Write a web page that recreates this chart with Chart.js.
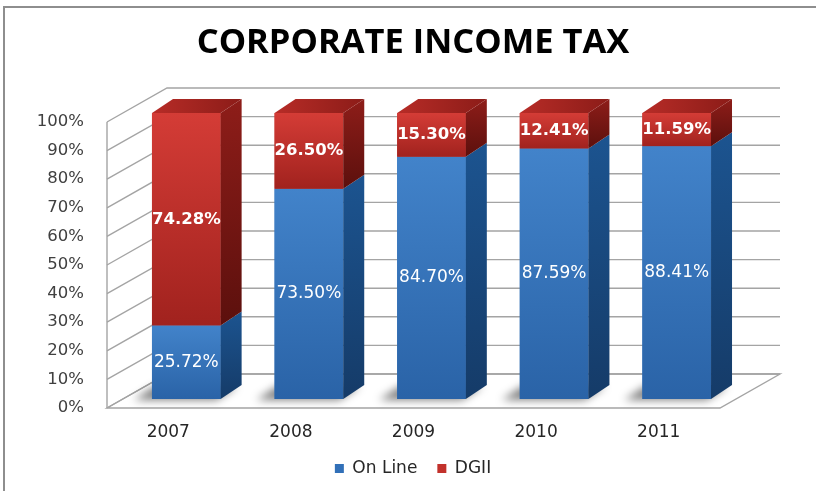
<!DOCTYPE html>
<html>
<head>
<meta charset="utf-8">
<title>Corporate Income Tax</title>
<script src="https://cdn.jsdelivr.net/npm/chart.js@4.4.1/dist/chart.umd.min.js"></script>
<style>
  html, body { margin: 0; padding: 0; background: #fff; }
</style>
</head>
<body>
<canvas id="taxChart" width="816" height="491"></canvas>
<script>
const years = ['2007', '2008', '2009', '2010', '2011']
const onLine = [25.72, 73.5, 84.7, 87.59, 88.41]
const dgii = [74.28, 26.5, 15.3, 12.41, 11.59]

// depth vectors for the fake 3D look
const WALL = { dx: 60, dy: 34 } // axis plane -> back wall
const FRONT = { dx: 18, dy: 9 } // axis plane -> bar front faces
const DEPTH = { dx: 21, dy: 14 } // bar thickness

const faces = [
  { front: ['#4283ca', '#2a63a7'], side: ['#1c5490', '#153b68'], bold: false },
  { front: ['#d43c36', '#a1221e'], side: ['#8e1d19', '#5c100d'], bold: true },
]

function poly(ctx, pts) {
  ctx.beginPath()
  ctx.moveTo(pts[0][0], pts[0][1])
  for (let i = 1; i < pts.length; i++) ctx.lineTo(pts[i][0], pts[i][1])
  ctx.closePath()
}

const bars3d = {
  id: 'bars3d',
  beforeDraw(chart) {
    const { ctx } = chart
    ctx.save()
    ctx.strokeStyle = '#8e8e8e'
    ctx.lineWidth = 2
    ctx.strokeRect(4, 7, chart.width + 20, chart.height + 20)
    ctx.restore()
  },
  beforeDatasetsDraw(chart) {
    const { ctx, chartArea: a, scales } = chart
    const y = scales.y
    ctx.save()
    ctx.strokeStyle = '#a4a4a4'
    ctx.lineWidth = 1.4
    // floor
    poly(ctx, [
      [a.left, a.bottom],
      [a.right, a.bottom],
      [a.right + WALL.dx, a.bottom - WALL.dy],
      [a.left + WALL.dx, a.bottom - WALL.dy],
    ])
    ctx.fillStyle = '#fff'
    ctx.fill()
    ctx.stroke()
    // side wall and back wall gridlines
    y.ticks.forEach((t) => {
      const py = y.getPixelForValue(t.value)
      ctx.beginPath()
      ctx.moveTo(a.left, py)
      ctx.lineTo(a.left + WALL.dx, py - WALL.dy)
      ctx.lineTo(a.right + WALL.dx, py - WALL.dy)
      ctx.stroke()
    })
    ctx.beginPath()
    ctx.moveTo(a.left, a.top)
    ctx.lineTo(a.left, a.bottom)
    ctx.stroke()
    ctx.restore()

    // bars sit a little behind the axis plane
    ctx.save()
    ctx.translate(FRONT.dx, -FRONT.dy)

    // soft shadows on the floor
    chart.getDatasetMeta(0).data.forEach((bar) => {
      const { x, base, width } = bar.getProps(['x', 'base', 'width'], true)
      const x0 = x - width / 2
      ctx.save()
      ctx.filter = 'blur(4px)'
      ctx.fillStyle = 'rgba(0,0,0,0.5)'
      poly(ctx, [
        [x0 - 18, base + 1],
        [x0 + width - 4, base + 1],
        [x0 + width - 4 + DEPTH.dx, base + 1 - DEPTH.dy],
        [x0 - 18 + DEPTH.dx, base + 1 - DEPTH.dy],
      ])
      ctx.fill()
      ctx.restore()
    })
  },
  afterDatasetsDraw(chart) {
    const { ctx } = chart
    const last = chart.data.datasets.length - 1
    chart.data.datasets.forEach((ds, di) => {
      const f = faces[di]
      chart.getDatasetMeta(di).data.forEach((bar, i) => {
        const p = bar.getProps(['x', 'y', 'base', 'width'], true)
        const top = Math.min(p.y, p.base)
        const bottom = Math.max(p.y, p.base)
        const x0 = p.x - p.width / 2
        const x1 = p.x + p.width / 2

        // front face
        let g = ctx.createLinearGradient(0, top, 0, bottom)
        g.addColorStop(0, f.front[0])
        g.addColorStop(1, f.front[1])
        ctx.fillStyle = g
        ctx.fillRect(x0, top, p.width, bottom - top)

        // right side face
        g = ctx.createLinearGradient(0, top - DEPTH.dy, 0, bottom)
        g.addColorStop(0, f.side[0])
        g.addColorStop(1, f.side[1])
        ctx.fillStyle = g
        poly(ctx, [
          [x1, top],
          [x1 + DEPTH.dx, top - DEPTH.dy],
          [x1 + DEPTH.dx, bottom - DEPTH.dy],
          [x1, bottom],
        ])
        ctx.fill()

        // top cap only on the highest segment
        if (di === last) {
          g = ctx.createLinearGradient(x0, 0, x1 + DEPTH.dx, 0)
          g.addColorStop(0, '#b72c27')
          g.addColorStop(1, '#8c1c18')
          ctx.fillStyle = g
          poly(ctx, [
            [x0, top],
            [x0 + DEPTH.dx, top - DEPTH.dy],
            [x1 + DEPTH.dx, top - DEPTH.dy],
            [x1, top],
          ])
          ctx.fill()
        }

        // value label
        ctx.save()
        ctx.fillStyle = '#fff'
        ctx.textAlign = 'center'
        ctx.textBaseline = 'middle'
        ctx.font = f.bold ? 'bold 16.5px "DejaVu Sans"' : '17px "DejaVu Sans"'
        ctx.fillText(ds.data[i].toFixed(2) + '%', p.x, (top + bottom) / 2)
        ctx.restore()
      })
    })
    ctx.restore()
  },
}

new Chart(document.getElementById('taxChart'), {
  type: 'bar',
  data: {
    labels: years,
    datasets: [
      {
        label: 'On Line',
        data: onLine,
        backgroundColor: '#3170b8',
        borderWidth: 0,
        barPercentage: 0.56,
        categoryPercentage: 1,
      },
      {
        label: 'DGII',
        data: dgii,
        backgroundColor: '#c2312b',
        borderWidth: 0,
        barPercentage: 0.56,
        categoryPercentage: 1,
      },
    ],
  },
  options: {
    responsive: false,
    animation: false,
    layout: { padding: { left: 10, right: 0, top: 0, bottom: 4 } },
    plugins: {
      title: {
        display: true,
        text: 'CORPORATE INCOME TAX',
        color: '#000',
        font: { family: 'Open Sans', size: 34.5, weight: 'bold' },
        padding: { top: 22, bottom: 58.6 },
      },
      legend: {
        position: 'bottom',
        labels: {
          boxWidth: 9,
          boxHeight: 9,
          padding: 20,
          color: '#262626',
          font: { family: 'DejaVu Sans', size: 17 },
        },
      },
      tooltip: { enabled: false },
    },
    scales: {
      x: {
        stacked: true,
        grid: { display: false, drawTicks: false },
        border: { display: false },
        ticks: {
          color: '#262626',
          padding: 14,
          font: { family: 'DejaVu Sans', size: 17 },
        },
        afterFit: (scale) => {
          scale.height = 32
        },
      },
      y: {
        stacked: true,
        min: 0,
        max: 100,
        grid: { display: false, drawTicks: false },
        border: { display: false },
        ticks: {
          stepSize: 10,
          color: '#404040',
          padding: 23,
          font: { family: 'DejaVu Sans', size: 16.5 },
          callback: (v) => v + '%',
        },
        afterFit: (scale) => {
          scale.width = 97
        },
      },
      // empty right-hand strip that leaves room for the 3D depth
      yDepth: {
        position: 'right',
        min: 0,
        max: 100,
        grid: { display: false, drawTicks: false },
        border: { display: false },
        ticks: { display: false },
        afterFit: (scale) => {
          scale.width = 96
        },
      },
    },
  },
  plugins: [bars3d],
})
</script>
</body>
</html>
